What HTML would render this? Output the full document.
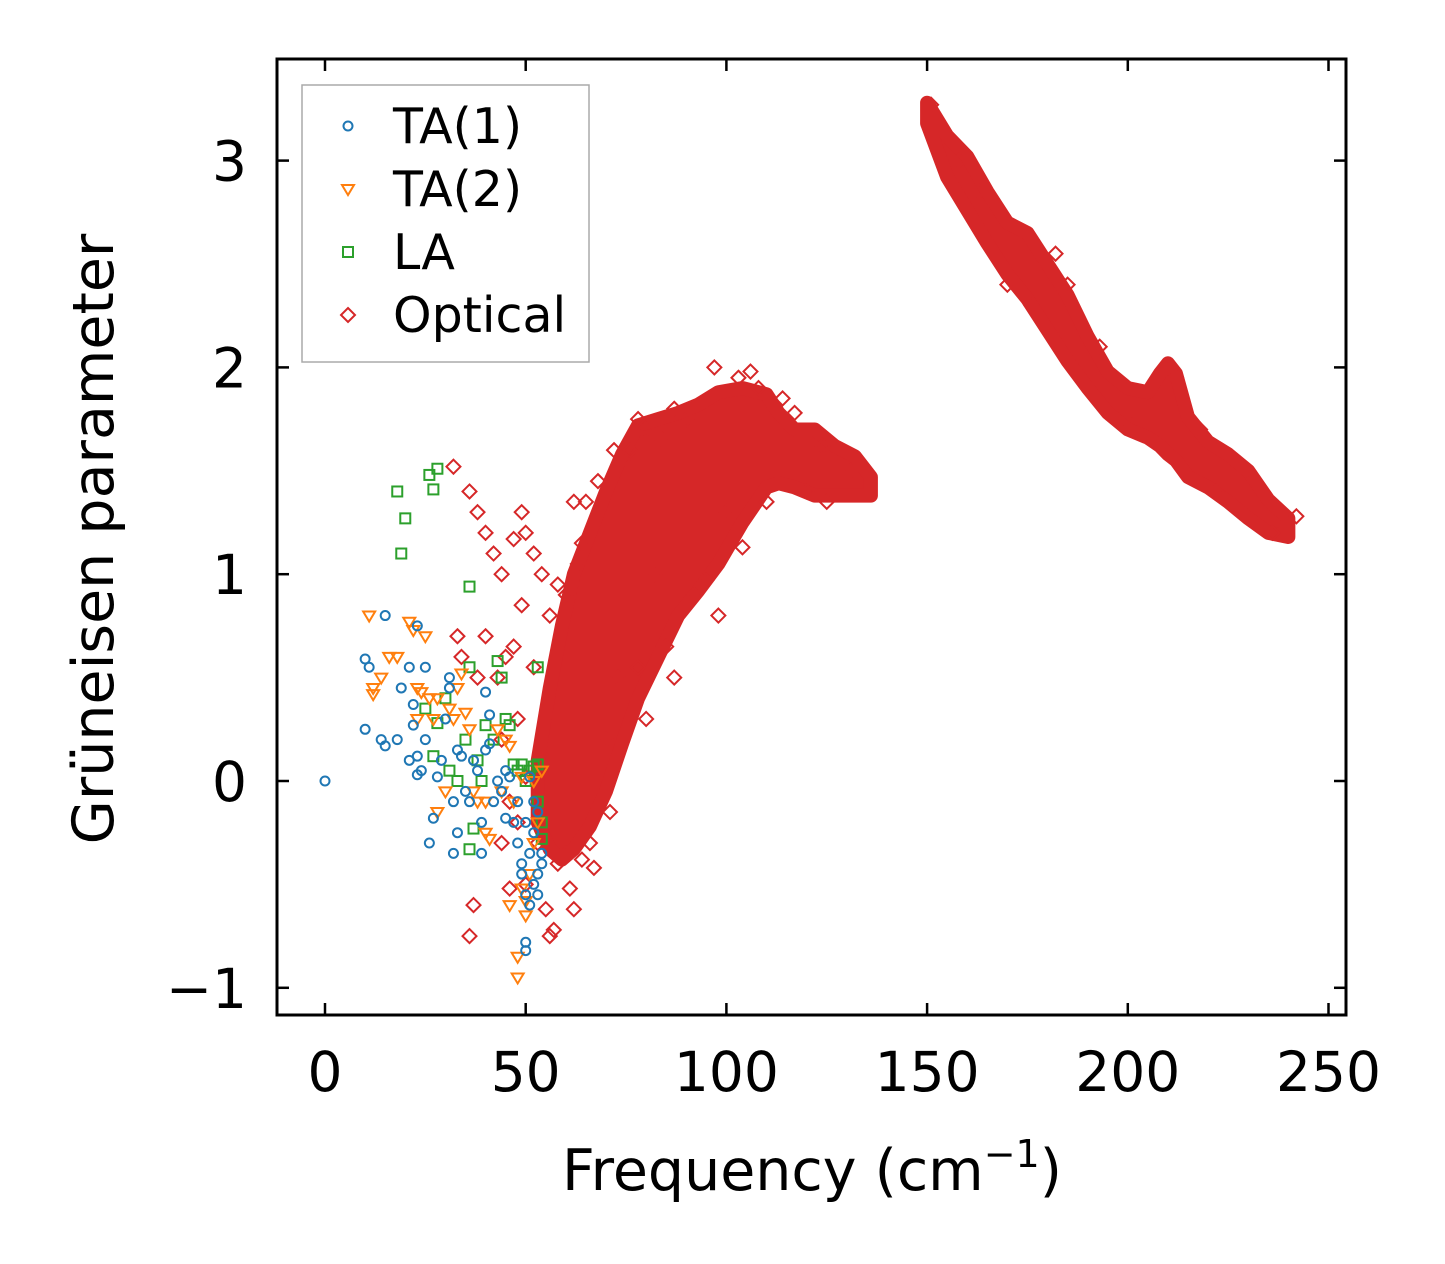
<!DOCTYPE html>
<html><head><meta charset="utf-8"><style>
body{margin:0;background:#fff;}
svg{display:block;font-family:"DejaVu Sans","Liberation Sans",sans-serif;}
</style></head><body>
<svg id="chart" width="1445" height="1264" viewBox="0 0 1445 1264" xmlns="http://www.w3.org/2000/svg">
<rect width="1445" height="1264" fill="#fff"/>
<g id="plot"></g>
<g id="axes"></g>
<text x="812" y="1190" font-size="57" text-anchor="middle">Frequency (cm<tspan font-size="38" dy="-23">−1</tspan><tspan dy="23">)</tspan></text>
<text transform="translate(113,539) rotate(-90)" font-size="57" text-anchor="middle">Grüneisen parameter</text>
<g>
<rect x="302" y="85" width="287" height="277" fill="#fff" stroke="#aaa" stroke-width="1.5"/>
<circle cx="348" cy="126" r="4.5" fill="none" stroke="#1f77b4" stroke-width="2"/>
<text x="393" y="143" font-size="49">TA(1)</text>
<path d="M342,185 L354,185 L348,195 Z" fill="none" stroke="#ff7f0e" stroke-width="2"/>
<text x="393" y="206" font-size="49">TA(2)</text>
<rect x="343" y="247" width="10" height="10" fill="none" stroke="#2ca02c" stroke-width="2"/>
<text x="393" y="269" font-size="49">LA</text>
<path d="M348,308 L355,315 L348,322 L341,315 Z" fill="none" stroke="#d62728" stroke-width="2"/>
<text x="393" y="332" font-size="49">Optical</text>
</g>
</svg>
<script>
const xTicks=[0,50,100,150,200,250];
const yTicks=[-1,0,1,2,3];
const ta1=[[0,0],[10,0.59],[11,0.55],[15,0.8],[10,0.25],[14,0.2],[15,0.17],[18,0.2],[19,0.45],[21,0.55],[23,0.75],[21,0.1],[22,0.37],[22,0.27],[23,0.12],[23,0.03],[24,0.05],[25,0.2],[25,0.55],[26,-0.3],[27,-0.18],[28,0.02],[29,0.1],[30,0.3],[31,0.45],[31,0.5],[32,-0.1],[32,-0.35],[33,0.15],[33,-0.25],[34,0.12],[35,-0.05],[36,-0.1],[37,0.1],[38,0.05],[39,-0.2],[39,-0.35],[40,0.43],[40,0.15],[41,0.32],[41,0.18],[42,-0.1],[43,0],[44,-0.05],[45,-0.18],[46,0.02],[47,-0.2],[48,-0.1],[48,-0.3],[49,-0.4],[49,-0.45],[50,-0.55],[50,-0.78],[50,-0.82],[51,-0.6],[51,-0.35],[52,-0.25],[52,-0.5],[53,-0.15],[53,-0.45],[54,-0.4],[54,-0.35],[52,-0.1],[50,-0.2],[51,0.02],[45,0.05],[53,-0.55]];
const ta2=[[11,0.8],[12,0.45],[12,0.42],[14,0.5],[16,0.6],[18,0.6],[21,0.77],[22,0.73],[23,0.3],[23,0.45],[24,0.43],[25,0.7],[26,0.4],[27,0.3],[28,-0.15],[28,0.4],[30,-0.05],[31,0.35],[32,0.3],[33,0.45],[34,0.52],[35,0.33],[36,0.25],[37,-0.05],[38,-0.1],[40,-0.1],[40,-0.25],[41,-0.28],[43,0.25],[44,-0.05],[45,0.2],[46,-0.6],[47,-0.1],[48,-0.95],[48,-0.85],[49,-0.52],[50,-0.58],[50,-0.65],[51,-0.45],[52,-0.3],[52,0],[53,-0.2],[54,0.05],[46,0.17],[49,0.02]];
const la=[[18,1.4],[19,1.1],[20,1.27],[26,1.48],[27,1.41],[28,1.51],[36,0.94],[25,0.35],[27,0.12],[28,0.28],[30,0.4],[31,0.05],[33,0],[35,0.2],[36,-0.33],[37,-0.23],[38,0.1],[39,0],[40,0.27],[42,0.2],[43,0.58],[44,0.5],[45,0.3],[46,0.27],[47,0.08],[48,0.05],[49,0.08],[50,0],[51,0.05],[52,0.07],[53,0.55],[53,0.08],[54,-0.2],[54,-0.28],[53,-0.1],[36,0.55]];
const opticalSparse=[[32,1.52],[36,1.4],[38,1.3],[40,1.2],[42,1.1],[44,1.0],[47,1.17],[49,1.3],[50,1.2],[52,1.1],[54,1.0],[49,0.85],[45,0.6],[40,0.7],[33,0.7],[34,0.6],[38,0.5],[43,0.5],[47,0.65],[52,0.55],[48,0.3],[44,0.2],[46,-0.1],[48,-0.2],[50,-0.5],[46,-0.52],[44,-0.3],[37,-0.6],[36,-0.75],[56,-0.75],[57,-0.72],[55,-0.62],[62,-0.62],[61,-0.52],[67,-0.42],[50,0.02],[53,-0.3],[58,-0.4],[60,-0.35],[64,-0.38],[66,-0.3],[71,-0.15],[80,0.3],[78,0.55],[87,0.5],[92,0.9],[98,0.8],[104,1.13],[95,0.97],[85,0.65],[82,1.0],[70,0.2],[73,0.5],[66,0.05],[76,1.6],[78,1.75],[80,1.7],[84,1.65],[87,1.8],[90,1.75],[97,2.0],[103,1.95],[106,1.98],[108,1.9],[114,1.85],[117,1.78],[124,1.62],[100,1.3],[110,1.35],[120,1.4],[125,1.35],[131,1.5],[64,1.15],[63,1.05],[65,1.35],[62,1.35],[68,1.45],[72,1.6],[74,1.55],[58,0.95],[56,0.8],[60,0.9],[151,3.27],[158,3.0],[163,2.85],[182,2.55],[185,2.4],[193,2.1],[201,1.72],[210,2.0],[212,1.95],[218,1.7],[230,1.5],[242,1.28],[236,1.2],[222,1.4],[170,2.4],[176,2.3]];
const bandLowFreq=[53,56,59,62,66,70,74,78,83,88,93,98,104,110,113,117,122,127,132,136];
const bandLowMin=[-0.2,-0.33,-0.38,-0.33,-0.22,-0.05,0.18,0.4,0.6,0.8,0.92,1.05,1.25,1.42,1.44,1.42,1.38,1.38,1.38,1.38];
const bandLowMax=[0.1,0.45,0.75,1.0,1.2,1.4,1.58,1.72,1.75,1.78,1.82,1.88,1.9,1.87,1.78,1.7,1.7,1.62,1.57,1.47];
const bandHighFreq=[150,155,160,165,170,175,180,185,190,195,200,205,208,210,212,215,220,225,230,235,240];
const bandHighMin=[3.18,2.92,2.76,2.6,2.45,2.33,2.18,2.03,1.9,1.78,1.7,1.66,1.62,1.58,1.55,1.47,1.42,1.35,1.27,1.2,1.18];
const bandHighMax=[3.28,3.12,3.02,2.85,2.7,2.65,2.5,2.35,2.15,1.98,1.9,1.88,1.97,2.02,1.97,1.76,1.64,1.58,1.5,1.36,1.27];

const NS='http://www.w3.org/2000/svg';
const X0=277,X1=1346,Y0=59,Y1=1015;
const sx=v=>325+v*4.014;
const sy=v=>781-v*206.8;
const plot=document.getElementById('plot');
const axes=document.getElementById('axes');
function mk(tag,attrs,parent){const e=document.createElementNS(NS,tag);for(const k in attrs)e.setAttribute(k,attrs[k]);parent.appendChild(e);return e;}

function band(fr,mn,mx,name){
  let pts=fr.map((f,i)=>sx(f)+','+sy(mx[i]));
  for(let i=fr.length-1;i>=0;i--)pts.push(sx(fr[i])+','+sy(mn[i]));
  const p=mk('polygon',{points:pts.join(' '),fill:'#d62728',stroke:'#d62728','stroke-width':14,'stroke-linejoin':'round'},plot);
  
  
}
band(bandLowFreq,bandLowMin,bandLowMax,'optical-band-low');
band(bandHighFreq,bandHighMin,bandHighMax,'optical-band-high');
opticalSparse.forEach(d=>{const x=sx(d[0]),y=sy(d[1]);
  const e=mk('path',{d:`M${x},${y-7} L${x+7},${y} L${x},${y+7} L${x-7},${y} Z`,fill:'none',stroke:'#d62728','stroke-width':2},plot);
  
  });
la.forEach(d=>{const x=sx(d[0]),y=sy(d[1]);
  const e=mk('rect',{x:x-5,y:y-5,width:10,height:10,fill:'none',stroke:'#2ca02c','stroke-width':2},plot);
  
  });
ta2.forEach(d=>{const x=sx(d[0]),y=sy(d[1]);
  const e=mk('path',{d:`M${x-6},${y-4} L${x+6},${y-4} L${x},${y+6} Z`,fill:'none',stroke:'#ff7f0e','stroke-width':2},plot);
  
  });
ta1.forEach(d=>{const e=mk('circle',{cx:sx(d[0]),cy:sy(d[1]),r:4.5,fill:'none',stroke:'#1f77b4','stroke-width':2},plot);
  
  });

const frame=mk('rect',{x:X0,y:Y0,width:X1-X0,height:Y1-Y0,fill:'none',stroke:'#000','stroke-width':3},axes);


xTicks.forEach(t=>{const x=sx(t);
  mk('line',{x1:x,y1:Y1,x2:x,y2:Y1-12,stroke:'#000','stroke-width':2.5},axes);
  mk('line',{x1:x,y1:Y0,x2:x,y2:Y0+12,stroke:'#000','stroke-width':2.5},axes);
  const l=mk('text',{x:x,y:1091,'font-size':55,'text-anchor':'middle'},axes);l.textContent=t;
  
  });
yTicks.forEach(t=>{const y=sy(t);
  mk('line',{x1:X0,y1:y,x2:X0+12,y2:y,stroke:'#000','stroke-width':2.5},axes);
  mk('line',{x1:X1,y1:y,x2:X1-12,y2:y,stroke:'#000','stroke-width':2.5},axes);
  const l=mk('text',{x:247,y:y+20,'font-size':55,'text-anchor':'end'},axes);l.textContent=t<0?'−'+(-t):t;
  
  });
</script>
</body></html>
